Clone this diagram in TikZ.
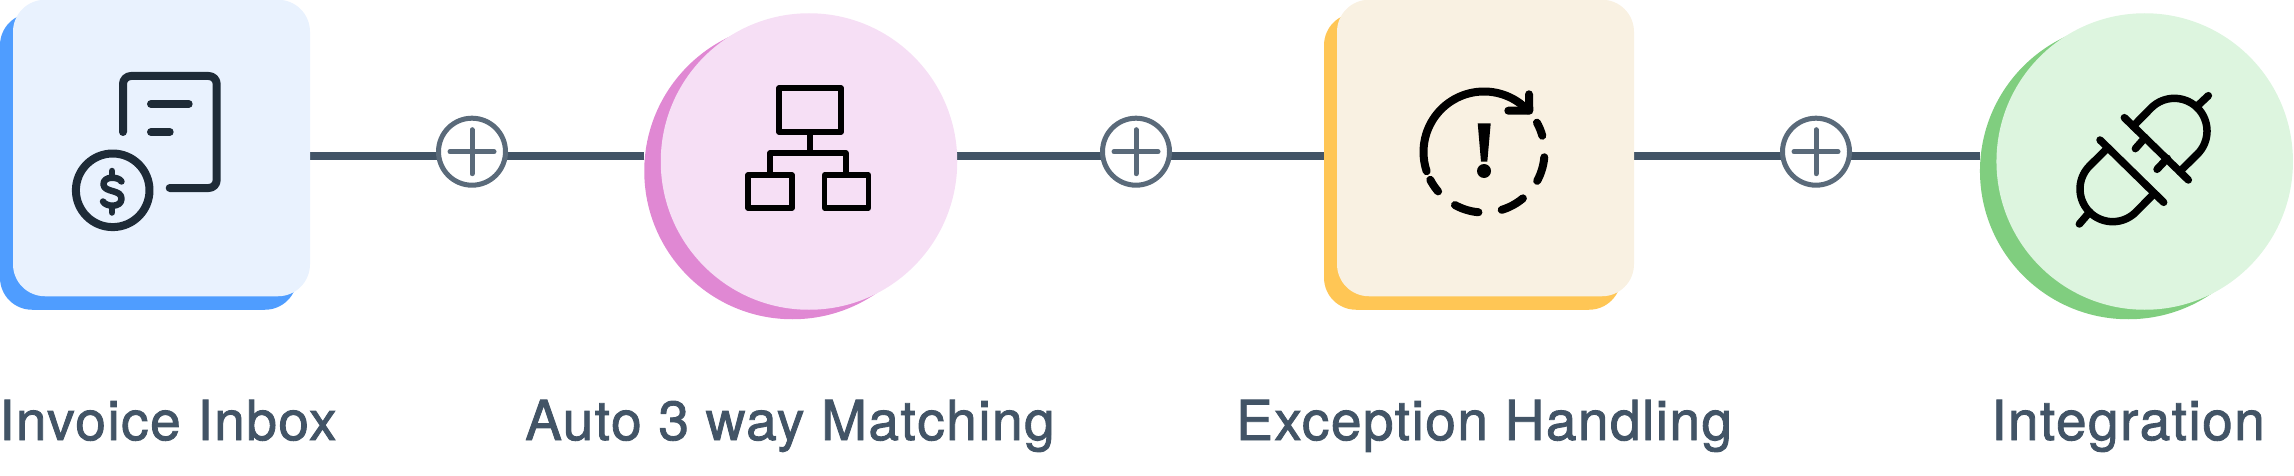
\documentclass[tikz,border=0pt]{standalone}
\usepackage{fontspec}
\setmainfont{TeX Gyre Heros}
\newfontfamily\labfont{TeX Gyre Heros}[FakeBold=1.6,LetterSpace=2.7]
\usetikzlibrary{backgrounds}
\definecolor{ink}{HTML}{425466}
\definecolor{ringc}{HTML}{5A6A7A}
\definecolor{iconc}{HTML}{1E2B37}
\definecolor{blueb}{HTML}{4F9DFF}\definecolor{bluef}{HTML}{E9F2FE}
\definecolor{pinkb}{HTML}{E088D3}\definecolor{pinkf}{HTML}{F6DFF5}
\definecolor{yelb}{HTML}{FFC655}\definecolor{yelf}{HTML}{F9F1E2}
\definecolor{greb}{HTML}{80CE7F}\definecolor{gref}{HTML}{DDF5DF}
\tikzset{
  sqbox/.style={rectangle,rounded corners=32pt,minimum width=297pt,minimum height=296.5pt,inner sep=0pt,draw=none},
  discbox/.style={circle,minimum size=296.5pt,inner sep=0pt,draw=none},
  conn/.style={draw=ink,line width=8pt},
  plusring/.style={circle,minimum size=67pt,inner sep=0pt,draw=ringc,line width=5pt,fill=white},
  plusarm/.style={draw=ringc,line width=5pt,line cap=round},
  lab/.style={anchor=base west,inner sep=0pt,text=ink,font=\labfont\fontsize{55}{60}\selectfont},
  crop/.style={shift={(#1)},x=0.33333pt,y=-0.33333pt}
}
\newcommand{\plusmark}[1]{%
  \draw[plusarm] ([xshift=-22pt]#1.center) -- ([xshift=22pt]#1.center);
  \draw[plusarm] ([yshift=-22pt]#1.center) -- ([yshift=22pt]#1.center);}
\begin{document}
\begin{tikzpicture}[x=1pt,y=-1pt]
\useasboundingbox (0,0) rectangle (2294,476);
\coordinate (ly) at (0,156);
% back shapes
\node[sqbox,fill=blueb] (s1b) at (148.5,161.5) {};
\node[discbox,fill=pinkb] (c2b) at (792.5,171) {};
\node[sqbox,fill=yelb] (s3b) at (1472.5,161.5) {};
\node[discbox,fill=greb] (c4b) at (2128.2,171) {};
% front shapes
\node[sqbox,fill=bluef] (s1) at (161.5,148) {};
\node[discbox,fill=pinkf] (c2) at (809,161.5) {};
\node[sqbox,fill=yelf] (s3) at (1485.5,148) {};
\node[discbox,fill=gref] (c4) at (2144.7,161.5) {};
% plus markers
\node[plusring] (p1) at (472,151.7) {};
\node[plusring] (p2) at (1136,151.7) {};
\node[plusring] (p3) at (1816,151.7) {};
\plusmark{p1}\plusmark{p2}\plusmark{p3}
% connectors
\begin{pgfonlayer}{background}
\draw[conn] (s1.east |- ly) -- (p1.center |- ly);
\draw[conn] (p1.center |- ly) -- (c2b.west |- ly);
\draw[conn] (c2.east |- ly) -- (p2.center |- ly);
\draw[conn] (p2.center |- ly) -- (s3b.west |- ly);
\draw[conn] (s3.east |- ly) -- (p3.center |- ly);
\draw[conn] (p3.center |- ly) -- (c4b.west |- ly);
\end{pgfonlayer}
% icon 1
\begin{scope}[draw=iconc,line width=8pt,line cap=round,line join=round]
\draw[rounded corners=8pt] (123,132) -- (123,76) -- (216.7,76) -- (216.7,188) -- (169.7,188);
\draw (151,104) -- (188.7,104);
\draw (151,132) -- (169.7,132);
\draw (112.7,190.3) circle[radius=36.8];
\draw[line width=6.5pt] (121.5,181.5) .. controls (119,176.5) and (103,175.5) .. (103.5,184.5) .. controls (104,193) and (122,189) .. (121.5,199) .. controls (121,208) and (106,207) .. (103,201.5);
\draw[line width=6.5pt] (112,171) -- (112,177);
\draw[line width=6.5pt] (112,206) -- (112,212.5);
\end{scope}
% icon 2
\begin{scope}[draw=black,line width=5.6pt,line join=round]
\draw (779,88) rectangle (840.8,132);
\draw (748.2,175) rectangle (791.8,208);
\draw (824.6,175) rectangle (868.3,208);
\draw (810,132) -- (810,153);
\draw (770,175) -- (770,153) -- (845.7,153) -- (845.7,175);
\end{scope}
% icon 3
\begin{scope}[draw=black,line width=8pt,line cap=round,line join=round]
\draw plot[domain=161.5:316.5,samples=50] ({1484+60.5*cos(\x)},{152+60.5*sin(\x)});
\draw plot[domain=139.4:152.6,samples=12] ({1484+60.5*cos(\x)},{152+60.5*sin(\x)});
\draw plot[domain=95.3:118.7,samples=16] ({1484+60.5*cos(\x)},{152+60.5*sin(\x)});
\draw plot[domain=50:73,samples=16] ({1484+60.5*cos(\x)},{152+60.5*sin(\x)});
\draw plot[domain=5:28.5,samples=16] ({1484+60.5*cos(\x)},{152+60.5*sin(\x)});
\draw plot[domain=-29:-15.6,samples=12] ({1484+60.5*cos(\x)},{152+60.5*sin(\x)});
\draw (1529,94.3) -- (1529.3,110.7) -- (1508.3,110.7);
\fill[black] (1477.7,123.3) -- (1490.7,123.3) -- (1487.3,161.7) -- (1481,161.7) -- cycle;
\fill[black] (1484,171) circle[radius=7];
\end{scope}
% icon 4
\begin{scope}[crop={2060,70},draw=black,line width=7.5pt,line cap=round,line join=round]
\draw (193,143) -- (385,330);
\draw (219,169) -- plot[domain=225:405,samples=50] ({343+98*cos(\x)},{183+98*sin(\x)}) -- (359,305);
\draw (412,108) -- (445,77);
\draw (255,203) -- (226,236);
\draw (322,265) -- (291,298);
\draw (120,210) -- (311,397);
\draw (283,370) -- plot[domain=45:225,samples=50] ({158+98*cos(\x)},{357+98*sin(\x)}) -- (144,233);
\draw (89,426) -- (58,462);
\end{scope}
% labels
\node[lab] (t1) at (-1,440) {Invoice Inbox};
\node[lab] (t2) at (525,440) {Auto 3 way Matching};
\node[lab] (t3) at (1236,440) {Exception Handling};
\node[lab] (t4) at (1991,440) {Integration};
\end{tikzpicture}
\end{document}
